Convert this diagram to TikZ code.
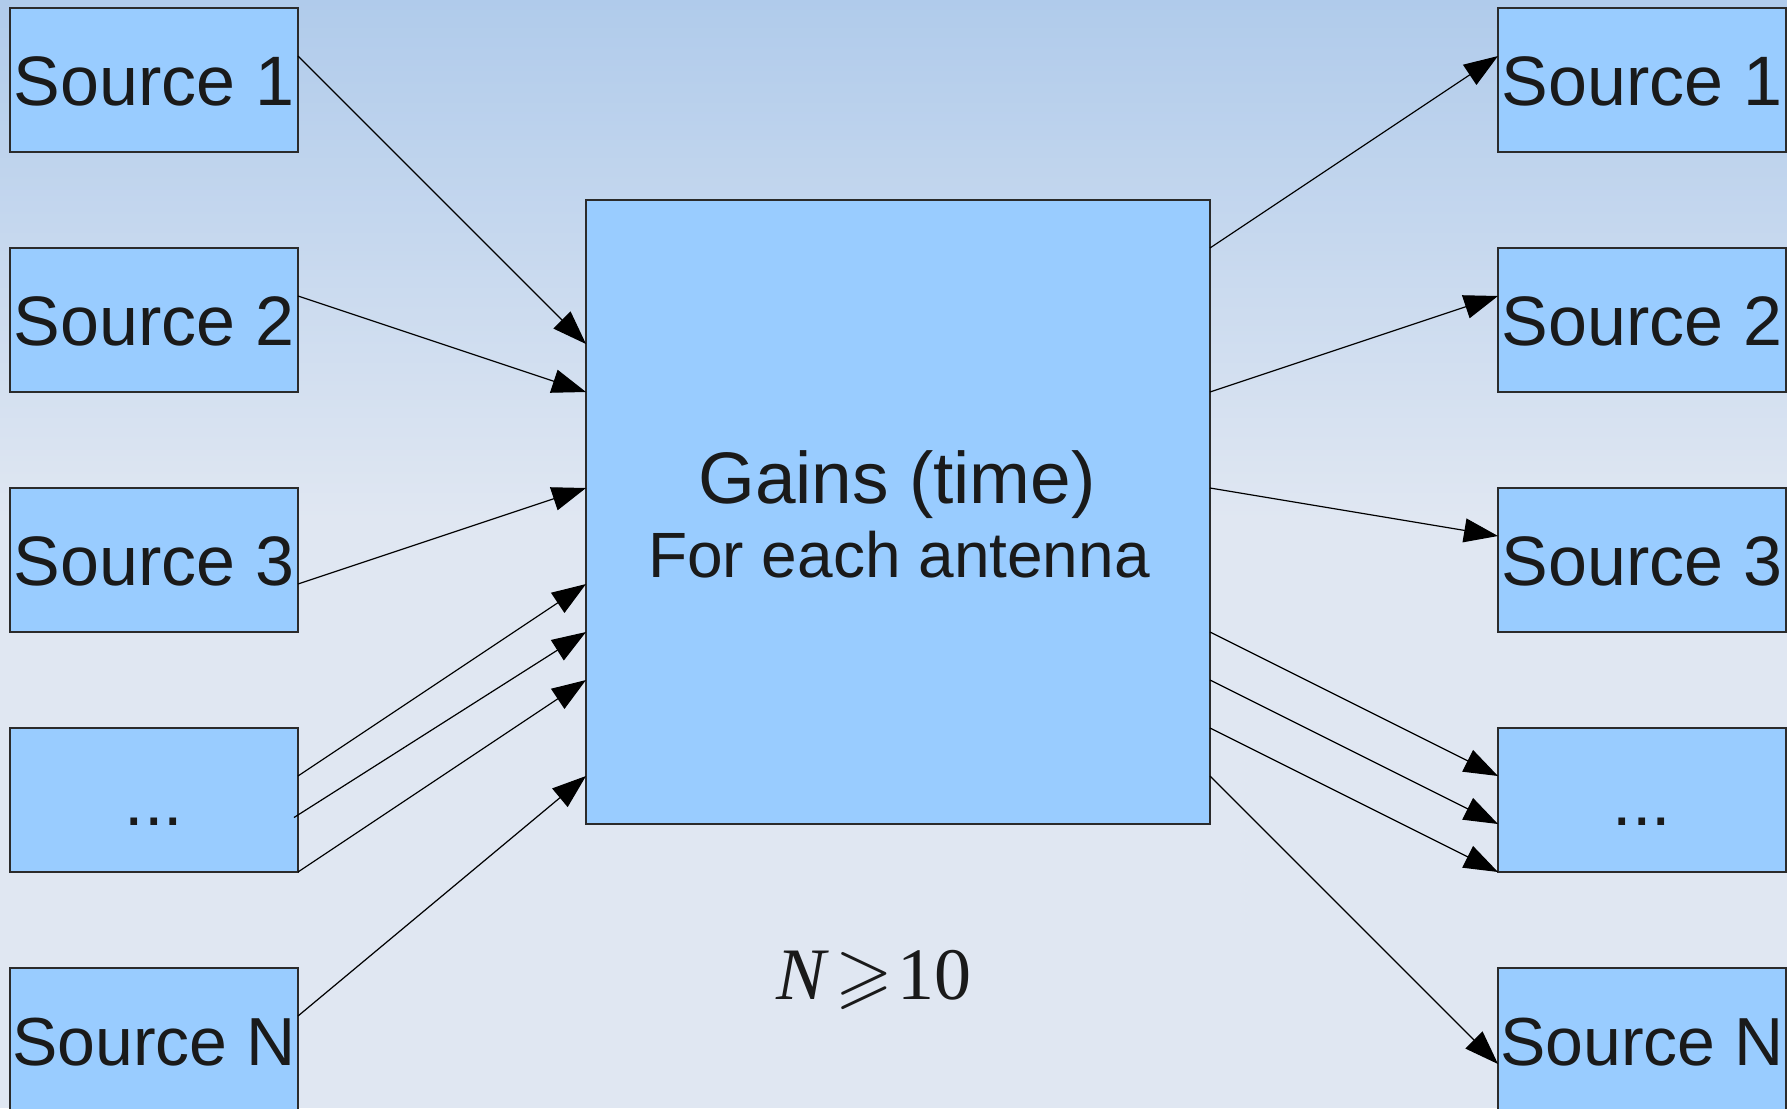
\documentclass[tikz,border=0pt]{standalone}
\usepackage{amssymb}
\usepackage{fontspec}
\setmainfont{Liberation Sans}
\newfontfamily\relfont{Liberation Serif}
\usetikzlibrary{arrows.meta,calc}

\definecolor{boxfill}{HTML}{99CCFF}
\definecolor{boxline}{HTML}{2B2B2B}
\definecolor{bgtop}{HTML}{B0CBEB}
\definecolor{bgbottom}{HTML}{E0E7F2}
\definecolor{ink}{HTML}{1A1A1A}

\begin{document}
\begin{tikzpicture}[x=0.5pt,y=-0.5pt,
  srcbox/.style={draw=boxline, line width=0.65pt, fill=boxfill, anchor=north west,
    minimum width=144pt, minimum height=72pt, inner sep=0pt, outer sep=0pt,
    text=ink, font=\fontsize{35}{40}\selectfont, text height=25pt, text depth=0pt},
  narrowtext/.style={font=\fontsize{34}{40}\selectfont},
  mainbox/.style={draw=boxline, line width=0.65pt, fill=boxfill, anchor=north west,
    minimum width=312pt, minimum height=312pt, inner sep=0pt, outer sep=0pt},
  flow/.style={line width=0.6pt, black, -{Triangle[length=17pt,width=12pt]}},
]
\useasboundingbox (0,0) rectangle (1787,1108);
\clip (0,0) rectangle (1787,1108);

% background: soft blue gradient fading into a flat pale tone
\fill[bgbottom] (0,0) rectangle (1787,1108);
\shade[top color=bgtop, bottom color=bgbottom] (0,0) rectangle (1787,520);

% left column
\node[srcbox] (s1) at (10,8)   {Source 1};
\node[srcbox] (s2) at (10,248) {Source 2};
\node[srcbox] (s3) at (10,488) {Source 3};
\node[srcbox] (s4) at (10,728) {...};
\node[srcbox, narrowtext] (s5) at (10,968) {Source N};

% right column
\node[srcbox] (r1) at (1498,8)   {Source 1};
\node[srcbox] (r2) at (1498,248) {Source 2};
\node[srcbox] (r3) at (1498,488) {Source 3};
\node[srcbox] (r4) at (1498,728) {...};
\node[srcbox, narrowtext] (r5) at (1498,968) {Source N};

% central block
\node[mainbox] (gains) at (586,200) {};
\node[anchor=base, text=ink, font=\fontsize{36.5}{40}\selectfont] (gainsA) at (897,503) {Gains (time)};
\node[anchor=base, text=ink, font=\fontsize{32}{36}\selectfont] (gainsB) at (899,577) {For each antenna};

% condition on the number of sources
\node[anchor=base, text=ink, inner sep=0pt, font=\fontsize{37}{40}\selectfont] (cond) at (874,999)
  {{\relfont\itshape N}\hspace{5pt}$\geqslant$\hspace{2.5pt}{\relfont 10}};

% inputs
\draw[flow] ($(s1.north east)+(0,48)$) -- ($(gains.north west)+(0,144)$);
\draw[flow] ($(s2.north east)+(0,48)$) -- ($(gains.north west)+(0,192)$);
\draw[flow] ($(s3.north east)+(0,96)$) -- ($(gains.north west)+(0,288)$);
\draw[flow] ($(s4.north east)+(0,48)$) -- ($(gains.north west)+(0,384)$);
\draw[flow] ($(s4.north east)+(-4,89.5)$) -- ($(gains.north west)+(0,432)$);
\draw[flow] (s4.south east) -- ($(gains.north west)+(0,480)$);
\draw[flow] ($(s5.north east)+(0,48)$) -- ($(gains.north west)+(0,576)$);

% outputs
\draw[flow] ($(gains.north east)+(0,48)$)  -- ($(r1.north west)+(0,48)$);
\draw[flow] ($(gains.north east)+(0,192)$) -- ($(r2.north west)+(0,48)$);
\draw[flow] ($(gains.north east)+(0,288)$) -- ($(r3.north west)+(0,48)$);
\draw[flow] ($(gains.north east)+(0,432)$) -- ($(r4.north west)+(0,48)$);
\draw[flow] ($(gains.north east)+(0,480)$) -- ($(r4.north west)+(0,96)$);
\draw[flow] ($(gains.north east)+(0,528)$) -- (r4.south west);
\draw[flow] ($(gains.north east)+(0,576)$) -- ($(r5.north west)+(0,96)$);
\end{tikzpicture}
\end{document}
